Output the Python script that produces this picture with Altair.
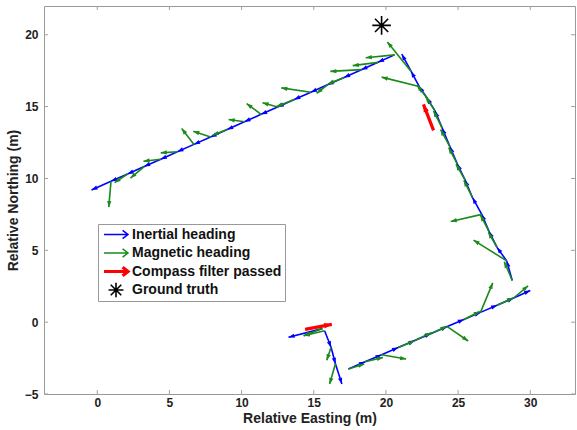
import altair as alt
import pandas as pd

# ---- values (metres) ----
# quiver base points along the walk
base_x = [15.6, 15.75, 16.2, 16.5,
          17.4, 18.55, 19.7, 20.85, 22.0, 23.1, 24.25, 25.4, 26.55, 27.7, 28.85,
          28.75, 28.37, 27.7, 27.15, 26.64, 26.0, 25.48, 24.95, 24.44, 23.9, 23.4, 22.85, 22.3, 21.75,
          20.6, 19.45, 18.3, 17.1, 15.95, 14.8, 13.65, 12.5, 11.35, 10.2, 9.0, 7.85, 6.7, 5.55, 4.4, 3.25, 2.1, 0.95]
base_y = [-0.45, -0.6, -1.75, -2.9,
          -3.26, -2.76, -2.27, -1.77, -1.28, -0.8, -0.31, 0.19, 0.68, 1.18, 1.68,
          2.9, 4.26, 5.2, 6.3, 7.5, 8.66, 9.9, 11.0, 12.2, 13.5, 14.7, 15.6, 16.4, 17.45,
          18.6, 18.08, 17.57, 17.03, 16.52, 16.0, 15.49, 14.97, 14.46, 13.94, 13.4, 12.89, 12.37, 11.86, 11.34, 10.83, 10.31, 9.8]
# inertial heading vectors
inertial_u = [-2.35, 0.45, 0.3, 0.45,
              1.15, 1.15, 1.15, 1.15, 1.1, 1.15, 1.15, 1.15, 1.15, 1.15, 1.15,
              -0.38, -0.67, -0.55, -0.51, -0.64, -0.52, -0.53, -0.51, -0.54, -0.5, -0.55, -0.55, -0.55, -0.65,
              -1.15, -1.15, -1.2, -1.15, -1.15, -1.15, -1.15, -1.15, -1.15, -1.2, -1.15, -1.15, -1.15, -1.15, -1.15, -1.15, -1.15, -1.35]
inertial_v = [-0.6, -1.15, -1.15, -1.4,
              0.5, 0.49, 0.5, 0.49, 0.48, 0.49, 0.5, 0.49, 0.5, 0.5, 0.52,
              1.36, 0.94, 1.1, 1.2, 1.16, 1.24, 1.1, 1.2, 1.3, 1.2, 0.9, 0.8, 1.05, 1.2,
              -0.52, -0.51, -0.54, -0.51, -0.52, -0.51, -0.52, -0.51, -0.52, -0.54, -0.51, -0.52, -0.51, -0.52, -0.51, -0.52, -0.51, -0.6]
# magnetic heading vectors
magnetic_u = [-1.3, -1.45, -0.3, -0.4,
              1.1, 1.25, 1.7, 1.1, 1.15, 1.1, 1.45, 1.1, 0.85, 1.1, 1.0,
              -0.55, -2.3, -0.6, -0.6, -2.15, -0.6, -0.62, -0.6, -0.65, -0.6, -0.65, -0.7, -2.6, -1.65,
              -2.0, -1.75, -2.15, -1.1, -0.75, -2.05, -1.25, -1.05, -1.0, -1.1, -1.0, -1.2, -0.85, -1.15, -1.2, -0.95, -0.9, -0.15]
magnetic_v = [-0.5, -0.35, -0.9, -1.4,
              0.35, 0.3, -0.3, 0.45, 0.55, 0.5, -1.0, 0.55, 2.05, 0.5, 0.85,
              1.3, 1.45, 1.05, 1.15, -0.5, 1.2, 1.1, 1.15, 1.2, 1.2, 1.0, 0.9, 0.65, 2.05,
              -0.2, -0.23, -0.12, -0.45, -0.6, 0.3, -0.5, 0.3, 0.75, 0.16, -0.4, 0.4, 1.1, -0.08, -0.14, -0.8, -0.6, -1.8]
# compass filter passed
compass_x = [14.4, 23.3]
compass_y = [-0.5, 13.35]
compass_u = [1.85, -0.7]
compass_v = [0.35, 1.8]
# ground truth
truth_x = [19.7]
truth_y = [20.65]

series_names = ["Inertial heading", "Magnetic heading", "Compass filter passed", "Ground truth"]
series_colors = ["#0000ff", "#1a8a1a", "#ff0000", "#000000"]
series_widths = [1.5, 1.5, 3.2, 1.6]
x_ticks = [0, 5, 10, 15, 20, 25, 30]
y_ticks = [-5, 0, 5, 10, 15, 20]
x_range = [-3.69, 33.1]
y_range = [-5, 22]

W, H = 531, 388
SX = W / (x_range[1] - x_range[0])
SY = H / (y_range[1] - y_range[0])

ARROW = "M-1,0L1,0M0.55,-0.35L1,0L0.55,0.35"
STAR = "M-0.62,0L0.62,0M0,-0.62L0,0.62M-0.44,-0.44L0.44,0.44M-0.44,0.44L0.44,-0.44"
HEAD = "M0,0L0.5,1.4L-0.5,1.4Z"
legend_shapes = [ARROW, ARROW, ARROW, STAR]

FONT = "Liberation Sans"
TICK = "#a0a0a0"
xscale = alt.Scale(domain=x_range, nice=False, zero=False)
yscale = alt.Scale(domain=y_range, nice=False, zero=False)
xaxis = alt.Axis(values=x_ticks, title="Relative Easting (m)", labelPadding=3, titlePadding=3)
yaxis = alt.Axis(values=y_ticks, title="Relative Northing (m)", labelPadding=6, titlePadding=4)

inertial_df = pd.DataFrame({"x": base_x, "y": base_y, "u": inertial_u, "v": inertial_v})
magnetic_df = pd.DataFrame({"x": base_x, "y": base_y, "u": magnetic_u, "v": magnetic_v})
compass_df = pd.DataFrame({"x": compass_x, "y": compass_y, "u": compass_u, "v": compass_v})
truth_df = pd.DataFrame({"x": truth_x, "y": truth_y, "series": ["Ground truth"]})
xt_df = pd.DataFrame({"t": x_ticks})
yt_df = pd.DataFrame({"t": y_ticks})


def arrows(df, color, width, head_size):
    base = alt.Chart(df).transform_calculate(
        xe="datum.x + datum.u",
        ye="datum.y + datum.v",
        ang=f"(atan2(datum.u * {SX}, datum.v * {SY}) * 180 / PI + 360) % 360",
    )
    shaft = base.mark_rule(color=color, strokeWidth=width).encode(
        x=alt.X("x:Q", scale=xscale, axis=xaxis),
        y=alt.Y("y:Q", scale=yscale, axis=yaxis),
        x2="xe:Q",
        y2="ye:Q",
    )
    head = base.mark_point(shape=HEAD, filled=True, color=color, size=head_size, opacity=1).encode(
        x=alt.X("xe:Q", scale=xscale, axis=xaxis),
        y=alt.Y("ye:Q", scale=yscale, axis=yaxis),
        angle=alt.Angle("ang:Q", scale=None),
    )
    return shaft + head


# inward tick marks on all four sides (MATLAB style box)
ticks = alt.layer(
    alt.Chart(xt_df).mark_rule(color=TICK, strokeWidth=1).encode(
        x=alt.X("t:Q", scale=xscale, axis=xaxis), y=alt.value(H), y2=alt.value(H - 4)),
    alt.Chart(xt_df).mark_rule(color=TICK, strokeWidth=1).encode(
        x=alt.X("t:Q", scale=xscale, axis=xaxis), y=alt.value(0), y2=alt.value(4)),
    alt.Chart(yt_df).mark_rule(color=TICK, strokeWidth=1).encode(
        y=alt.Y("t:Q", scale=yscale, axis=yaxis), x=alt.value(0), x2=alt.value(4)),
    alt.Chart(yt_df).mark_rule(color=TICK, strokeWidth=1).encode(
        y=alt.Y("t:Q", scale=yscale, axis=yaxis), x=alt.value(W), x2=alt.value(W - 4)),
)

legend = alt.Legend(
    title=None, orient="none", legendX=54, legendY=218, direction="vertical",
    strokeColor="#999999", fillColor="white", padding=3, symbolSize=576,
    clipHeight=15, rowPadding=3.5, labelOffset=2, symbolOffset=1,
    labelFont=FONT, labelFontSize=14, labelFontWeight="bold", labelColor="#111",
)

star = alt.Chart(truth_df).mark_point(filled=False, size=900, opacity=1).encode(
    x=alt.X("x:Q", scale=xscale, axis=xaxis),
    y=alt.Y("y:Q", scale=yscale, axis=yaxis),
    color=alt.Color("series:N", scale=alt.Scale(domain=series_names, range=series_colors), legend=legend),
    shape=alt.Shape("series:N", scale=alt.Scale(domain=series_names, range=legend_shapes), legend=legend),
    strokeWidth=alt.StrokeWidth("series:N", scale=alt.Scale(type="ordinal", domain=series_names, range=series_widths), legend=legend),
)

chart = alt.layer(
    ticks,
    arrows(inertial_df, series_colors[0], 1.6, 75),
    arrows(magnetic_df, series_colors[1], 1.6, 75),
    arrows(compass_df, series_colors[2], 3.2, 120),
    star,
).properties(
    width=W, height=H,
    autosize=alt.AutoSizeParams(type="none"),
    padding={"left": 44, "top": 6, "right": 2, "bottom": 36},
    background="white",
).configure_view(
    stroke="#999999", strokeWidth=1
).configure_axis(
    grid=False, domain=False, ticks=False,
    labelFont=FONT, labelFontSize=12, labelFontWeight="bold", labelColor="#222",
    titleFont=FONT, titleFontSize=14, titleFontWeight="bold", titleColor="#222",
)

chart.save("out.html", embed_options={"renderer": "svg", "actions": False})
